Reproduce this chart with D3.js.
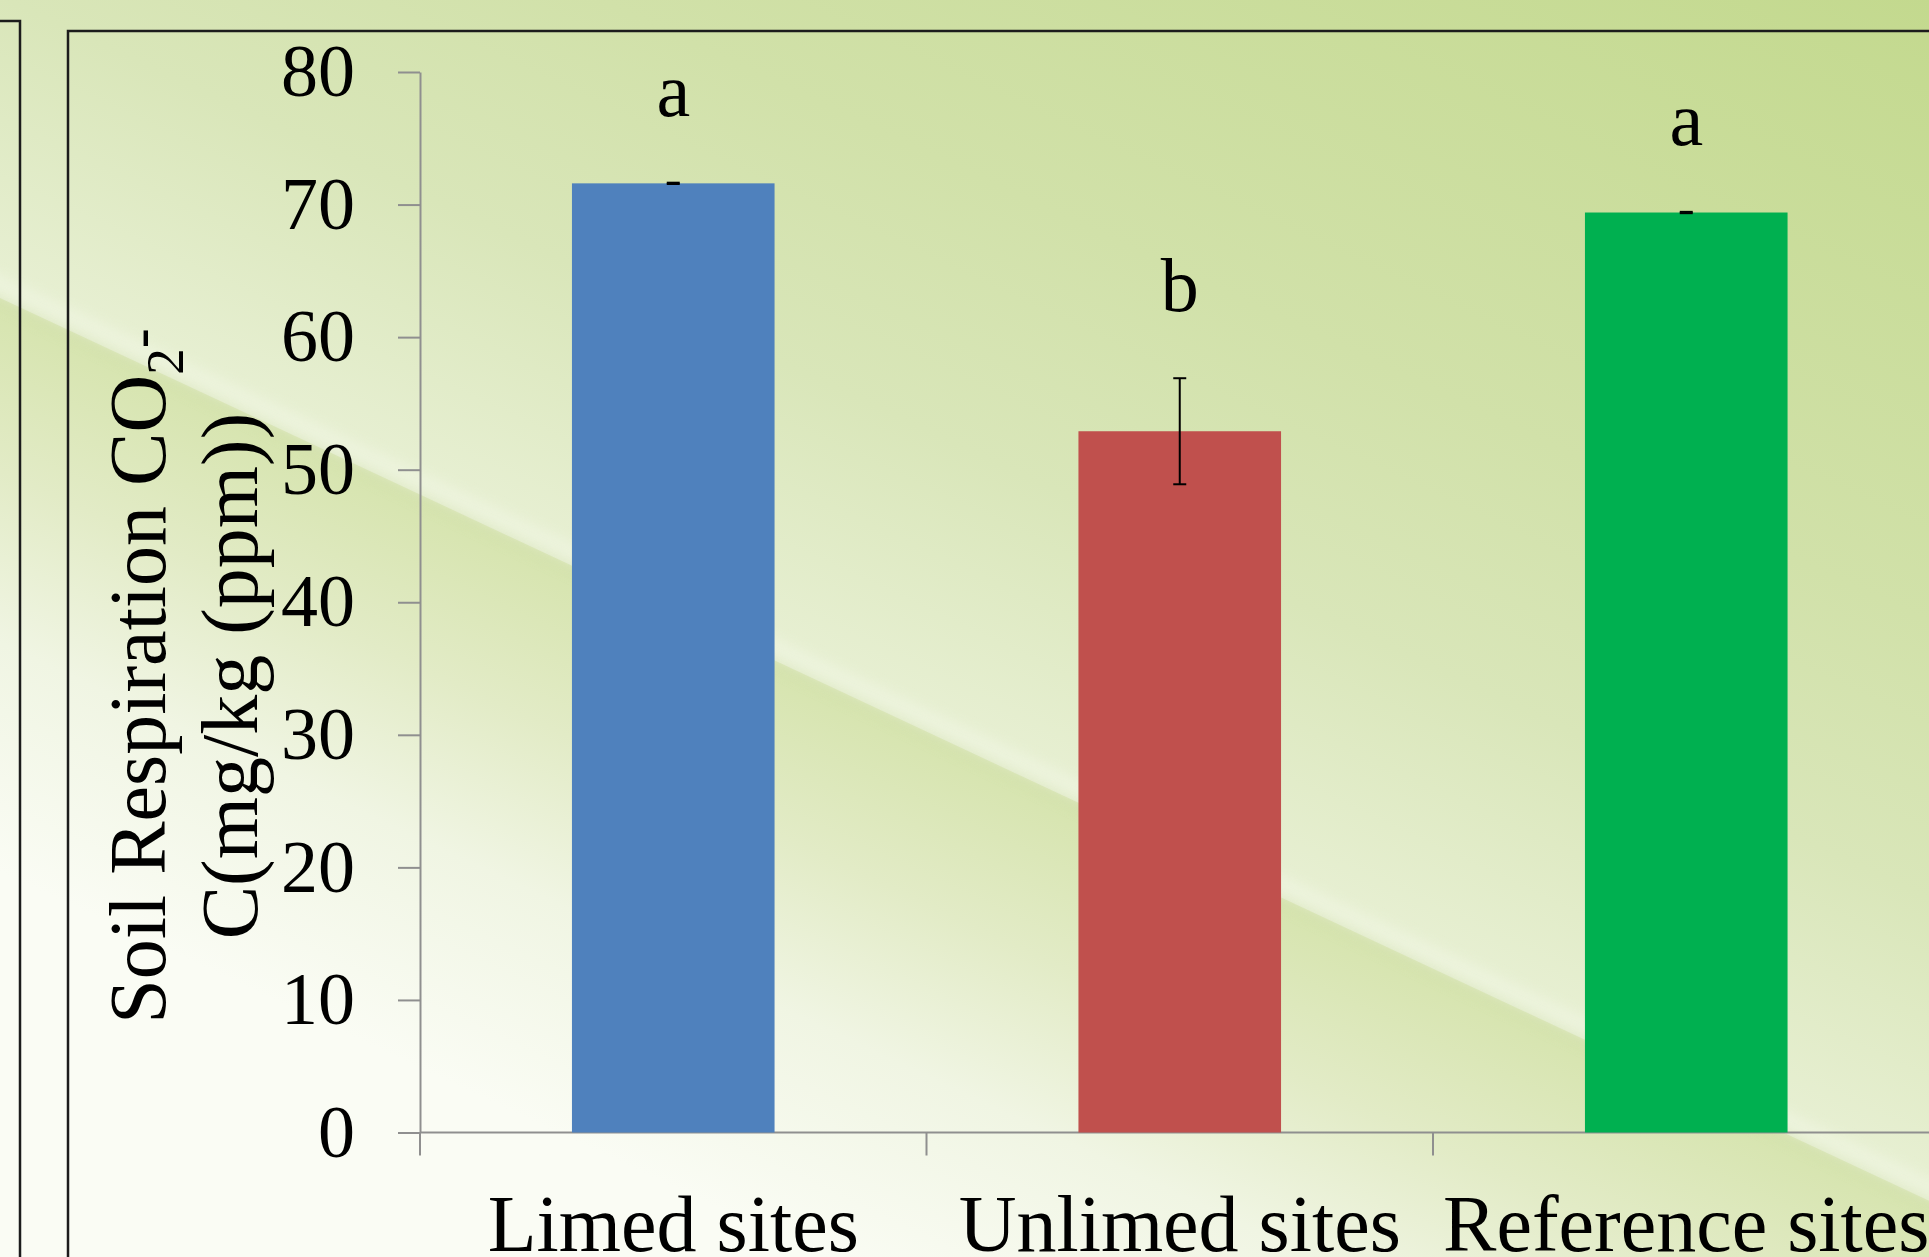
<!DOCTYPE html>
<html lang="en">
<head>
  <meta charset="UTF-8">
  <title>Soil Respiration CO2-C</title>
  <style>
    body { margin: 0; overflow: hidden; background: #e6eed3; }
    svg { display: block; }
    text { font-family: "Liberation Serif", "Times New Roman", serif; fill: #000; }
  </style>
</head>
<body>
  <script src="https://d3js.org/d3.v7.min.js"></script>
  <script>
    // data
    const categories = ["Limed sites", "Unlimed sites", "Reference sites"];
    const means = [71.6, 52.9, 69.4];
    const errors = [0.05, 4.0, 0.05];
    const letters = ["a", "b", "a"];
    const barColors = ["#4f81bd", "#c0504d", "#00b050"];
    const yTicks = [0, 10, 20, 30, 40, 50, 60, 70, 80];

    const width = 1929;
    const height = 1257;

    const svg = d3.select("body").append("svg")
      .attr("width", width)
      .attr("height", height);

    // ---- background (slide theme: green gradient with a diagonal light streak)
    const defs = svg.append("defs");
    // streak line: y = 298 + 0.468 x
    const slope = 0.468, y0 = 298;

    const gTop = defs.append("linearGradient")
      .attr("id", "bgTop")
      .attr("gradientUnits", "userSpaceOnUse")
      .attr("x1", 0).attr("y1", y0)
      .attr("x2", 462).attr("y2", y0 - 988);
    [[0, "#e8f0d4"], [0.25, "#d9e6b9"], [0.48, "#d1e1a9"], [1, "#c3d98e"]]
      .forEach(s => gTop.append("stop").attr("offset", s[0]).attr("stop-color", s[1]));

    const gBot = defs.append("linearGradient")
      .attr("id", "bgBot")
      .attr("gradientUnits", "userSpaceOnUse")
      .attr("x1", 0).attr("y1", y0)
      .attr("x2", -0.424 * 520).attr("y2", y0 + 0.906 * 520);
    [[0, "#d6e4ae"], [0.3, "#e2ebc6"], [0.6, "#f0f5e3"], [1, "#fafcf4"]]
      .forEach(s => gBot.append("stop").attr("offset", s[0]).attr("stop-color", s[1]));

    defs.append("filter").attr("id", "blur")
      .attr("x", "-10%").attr("y", "-10%").attr("width", "120%").attr("height", "120%")
      .append("feGaussianBlur").attr("stdDeviation", 6);

    svg.append("rect")
      .attr("width", width).attr("height", height)
      .attr("fill", "url(#bgTop)");

    svg.append("path")
      .attr("d", `M0,${y0} L${width},${y0 + slope * width} L${width},${height + 400} L0,${height + 400} Z`)
      .attr("fill", "url(#bgBot)");

    // soft light streak just above the edge, darker rim on the edge
    svg.append("line")
      .attr("x1", -50).attr("y1", y0 - 12 - slope * 50)
      .attr("x2", width + 50).attr("y2", y0 - 12 + slope * (width + 50))
      .attr("stroke", "#f0f6e2").attr("stroke-width", 20)
      .attr("opacity", 0.6)
      .attr("filter", "url(#blur)");
    svg.append("line")
      .attr("x1", -50).attr("y1", y0 + 3 - slope * 50)
      .attr("x2", width + 50).attr("y2", y0 + 3 + slope * (width + 50))
      .attr("stroke", "#cbd9a6").attr("stroke-width", 6)
      .attr("opacity", 0.5)
      .attr("filter", "url(#blur)");

    // frames of the slide boxes
    svg.append("path")
      .attr("d", "M0,21 L20,21 L20,1260")
      .attr("fill", "none").attr("stroke", "#1c1c1c").attr("stroke-width", 2.5);
    svg.append("path")
      .attr("d", "M68,1260 L68,31 L1935,31")
      .attr("fill", "none").attr("stroke", "#1c1c1c").attr("stroke-width", 2.5);

    // ---- scales
    const y = d3.scaleLinear()
      .domain([0, 80])
      .range([1132.5, 72]);

    const x = d3.scaleBand()
      .domain(categories)
      .range([420, 1939.5])
      .paddingInner(0.6)
      .paddingOuter(0.3);

    const step = x.step();
    const axisColor = "#8f8f8f";

    // ---- y axis
    const yAxis = svg.append("g")
      .attr("transform", "translate(420,0)")
      .call(d3.axisLeft(y).tickValues(yTicks).tickSize(22).tickSizeOuter(0).tickPadding(43));
    yAxis.select(".domain").attr("stroke", axisColor).attr("stroke-width", 2);
    yAxis.selectAll(".tick line").attr("stroke", axisColor).attr("stroke-width", 2);
    yAxis.selectAll(".tick text")
      .attr("font-family", "Liberation Serif, serif")
      .attr("font-size", 74)
      .attr("fill", "#000");

    // ---- x axis: line, boundary ticks and category labels
    const xAxis = svg.append("g")
      .attr("transform", `translate(0,${y(0)})`)
      .call(d3.axisBottom(x).tickSize(0).tickPadding(62));
    xAxis.select(".domain").remove();
    xAxis.selectAll(".tick text")
      .attr("font-family", "Liberation Serif, serif")
      .attr("font-size", 80)
      .attr("fill", "#000");

    svg.append("line")
      .attr("x1", 420).attr("x2", width + 20)
      .attr("y1", y(0)).attr("y2", y(0))
      .attr("stroke", axisColor).attr("stroke-width", 2);

    svg.selectAll(".cat-tick")
      .data(d3.range(categories.length + 1))
      .enter().append("line")
      .attr("class", "cat-tick")
      .attr("x1", i => x.range()[0] + i * step)
      .attr("x2", i => x.range()[0] + i * step)
      .attr("y1", y(0))
      .attr("y2", y(0) + 23)
      .attr("stroke", axisColor).attr("stroke-width", 2);

    // ---- bars
    svg.selectAll(".bar")
      .data(categories)
      .enter().append("rect")
      .attr("class", "bar")
      .attr("x", d => x(d))
      .attr("y", (d, i) => y(means[i]))
      .attr("width", x.bandwidth())
      .attr("height", (d, i) => y(0) - y(means[i]))
      .attr("fill", (d, i) => barColors[i]);

    // ---- error bars
    const err = svg.append("g")
      .attr("stroke", "#000")
      .attr("stroke-width", 2);
    categories.forEach((c, i) => {
      const cx = x(c) + x.bandwidth() / 2;
      const hi = y(means[i] + errors[i]);
      const lo = y(means[i] - errors[i]);
      err.append("line").attr("x1", cx).attr("x2", cx).attr("y1", hi).attr("y2", lo);
      err.append("line").attr("x1", cx - 6.5).attr("x2", cx + 6.5).attr("y1", hi).attr("y2", hi);
      err.append("line").attr("x1", cx - 6.5).attr("x2", cx + 6.5).attr("y1", lo).attr("y2", lo);
    });

    // ---- significance letters
    svg.selectAll(".letter")
      .data(categories)
      .enter().append("text")
      .attr("class", "letter")
      .attr("x", d => x(d) + x.bandwidth() / 2)
      .attr("y", (d, i) => y(means[i] + errors[i]) - 67)
      .attr("text-anchor", "middle")
      .attr("font-size", 76)
      .text((d, i) => letters[i]);

    // ---- y axis title (two lines, rotated)
    const t1 = svg.append("text")
      .attr("transform", "translate(165,676) rotate(-90)")
      .attr("text-anchor", "middle")
      .attr("font-size", 80);
    t1.append("tspan").text("Soil Respiration CO");
    t1.append("tspan").attr("font-size", 53).attr("dy", 18).text("2");
    t1.append("tspan").attr("font-size", 60).attr("dy", -23).text("-");

    svg.append("text")
      .attr("transform", "translate(257,676) rotate(-90)")
      .attr("text-anchor", "middle")
      .attr("font-size", 80)
      .text("C(mg/kg (ppm))");
  </script>
</body>
</html>
